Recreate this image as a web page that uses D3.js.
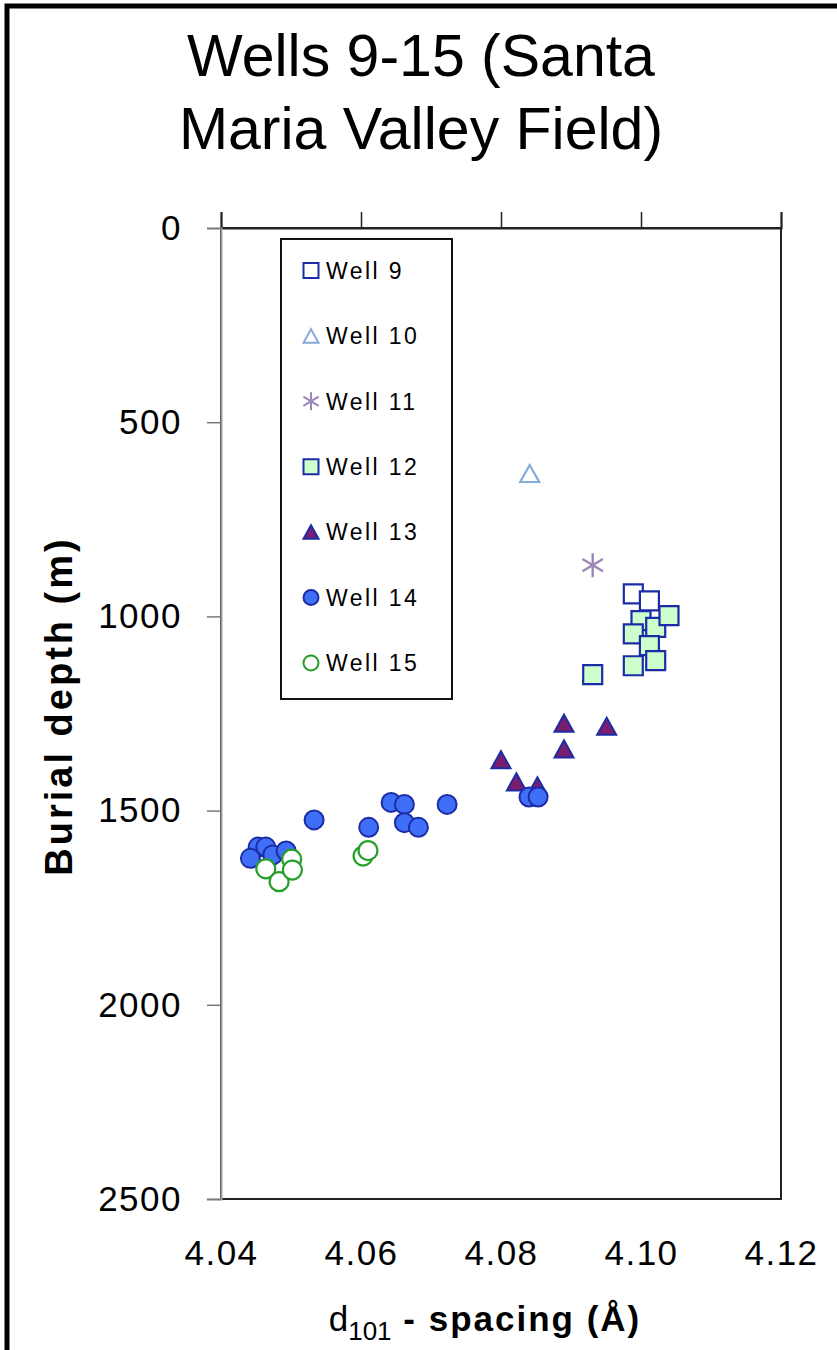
<!DOCTYPE html>
<html>
<head>
<meta charset="utf-8">
<script src="https://cdn.jsdelivr.net/npm/d3@7"></script>
<style>
  body { margin: 0; background: #fff; }
  svg { display: block; }
  text { font-family: "Liberation Sans", Arial, Helvetica, sans-serif; fill: #000; }
</style>
</head>
<body>
<svg id="chart" width="837" height="1350"></svg>
<script>
// ---- data: d101 spacing (Å) and burial depth (m) for each well ----
const wells = ["Well 9", "Well 10", "Well 11", "Well 12", "Well 13", "Well 14", "Well 15"];

const well9Spacing  = [4.0989, 4.1012];
const well9Depth    = [942, 960];

const well10Spacing = [4.0841];
const well10Depth   = [632];

const well11Spacing = [4.0931];
const well11Depth   = [868];

const well12Spacing = [4.1000, 4.1021, 4.1040, 4.0989, 4.1012, 4.0989, 4.1021, 4.0931];
const well12Depth   = [1011, 1028, 998, 1045, 1075, 1127, 1114, 1150];

const well13Spacing = [4.0890, 4.0951, 4.0890, 4.0800, 4.0822, 4.0852];
const well13Depth   = [1275, 1283, 1341, 1369, 1426, 1436];

const well14Spacing = [4.0840, 4.0853, 4.0723, 4.0643, 4.0662, 4.0662, 4.0682, 4.0611, 4.0533,
                       4.0453, 4.0464, 4.0442, 4.0474, 4.0493];
const well14Depth   = [1465, 1465, 1484, 1479, 1484, 1531, 1543, 1543, 1524,
                       1594, 1594, 1623, 1614, 1604];

const well15Spacing = [4.0464, 4.0483, 4.0501, 4.0502, 4.0603, 4.0610];
const well15Depth   = [1650, 1683, 1625, 1653, 1617, 1603];

const spacingTicks = [4.04, 4.06, 4.08, 4.10, 4.12];
const depthTicks   = [0, 500, 1000, 1500, 2000, 2500];

const titleLines = ["Wells 9-15 (Santa", "Maria Valley Field)"];

// ---- marker styles per well ----
const markerStyle = {
  "Well 9":  { shape: "square",   fill: "#ffffff", stroke: "#1c2ca6", width: 2.2 },
  "Well 10": { shape: "triangle", fill: "#ffffff", stroke: "#86acd8", width: 2.2 },
  "Well 11": { shape: "star",     fill: "none",    stroke: "#9c86b8", width: 2.4 },
  "Well 12": { shape: "square",   fill: "#ccffcc", stroke: "#1c2ca6", width: 2.2 },
  "Well 13": { shape: "triangle", fill: "#7a1d6c", stroke: "#1c2ca6", width: 2 },
  "Well 14": { shape: "circle",   fill: "#3f6ff6", stroke: "#1c2ca6", width: 2 },
  "Well 15": { shape: "circle",   fill: "#ffffff", stroke: "#24a02a", width: 2.2 }
};

const series = [
  { name: wells[0], xs: well9Spacing,  ys: well9Depth },
  { name: wells[1], xs: well10Spacing, ys: well10Depth },
  { name: wells[2], xs: well11Spacing, ys: well11Depth },
  { name: wells[3], xs: well12Spacing, ys: well12Depth },
  { name: wells[4], xs: well13Spacing, ys: well13Depth },
  { name: wells[5], xs: well14Spacing, ys: well14Depth },
  { name: wells[6], xs: well15Spacing, ys: well15Depth }
];

// marker outline centred on (0,0), s = overall size in px
function markerPath(shape, s) {
  const h = s / 2;
  const p = d3.path();
  if (shape === "square") {
    p.rect(-h, -h, s, s);
  } else if (shape === "triangle") {
    const th = s * 0.9 / 2;
    p.moveTo(0, -th); p.lineTo(h, th); p.lineTo(-h, th); p.closePath();
  } else if (shape === "circle") {
    p.moveTo(h, 0); p.arc(0, 0, h, 0, 2 * Math.PI);
  } else if (shape === "star") {
    const d = h * 0.85;
    p.moveTo(0, -h); p.lineTo(0, h);
    p.moveTo(-d, -d * 0.6); p.lineTo(d, d * 0.6);
    p.moveTo(-d, d * 0.6); p.lineTo(d, -d * 0.6);
  }
  return p.toString();
}

const svg = d3.select("#chart");

// outer frame
svg.append("rect")
  .attr("x", 7).attr("y", 6).attr("width", 900).attr("height", 1400)
  .attr("fill", "none").attr("stroke", "#000").attr("stroke-width", 5);

// title
svg.append("g").selectAll("text").data(titleLines).join("text")
  .attr("x", 421).attr("y", (d, i) => 76 + i * 73)
  .attr("text-anchor", "middle")
  .attr("font-size", 59)
  .text(d => d);

// plot area
const plot = { left: 221, top: 228, right: 781, bottom: 1199 };
const x = d3.scaleLinear().domain([4.04, 4.12]).range([plot.left, plot.right]);
const y = d3.scaleLinear().domain([0, 2500]).range([plot.top, plot.bottom]);

// plot frame: dark top/right/bottom, grey left (value axis line)
svg.append("rect")
  .attr("x", plot.left).attr("y", plot.top)
  .attr("width", plot.right - plot.left).attr("height", plot.bottom - plot.top)
  .attr("fill", "#fff").attr("stroke", "#222").attr("stroke-width", 2);

// x ticks along the top edge
const xTop = svg.append("g")
  .attr("transform", `translate(0,${plot.top})`)
  .call(d3.axisTop(x).tickValues(spacingTicks).tickSize(16).tickFormat(""));
xTop.select(".domain").attr("stroke", "#222").attr("stroke-width", 2);
xTop.selectAll(".tick line").attr("stroke", "#222").attr("stroke-width", 1.5);

// x tick labels beneath the plot
const xBottom = svg.append("g")
  .attr("transform", `translate(0,${plot.bottom})`)
  .call(d3.axisBottom(x).tickValues(spacingTicks).tickSize(0).tickPadding(41)
    .tickFormat(d3.format(".2f")));
xBottom.select(".domain").remove();
xBottom.selectAll(".tick text")
  .attr("font-size", 35).attr("letter-spacing", 1.5).attr("fill", "#111")
  .style("font-family", "'Liberation Sans', Arial, sans-serif");

// y axis on the left
const yAxis = svg.append("g")
  .attr("transform", `translate(${plot.left},0)`)
  .call(d3.axisLeft(y).tickValues(depthTicks).tickSize(14).tickPadding(25)
    .tickFormat(d3.format("d")));
yAxis.select(".domain").attr("stroke", "#a0a0a0").attr("stroke-width", 2);
yAxis.selectAll(".tick line").attr("stroke", "#777").attr("stroke-width", 1.5);
yAxis.selectAll(".tick text")
  .attr("font-size", 35).attr("letter-spacing", 1.5).attr("fill", "#111")
  .style("font-family", "'Liberation Sans', Arial, sans-serif");

// axis titles
svg.append("text")
  .attr("transform", "translate(72,706) rotate(-90)")
  .attr("text-anchor", "middle")
  .attr("font-size", 38).attr("font-weight", "bold").attr("letter-spacing", 3)
  .text("Burial depth (m)");

const xTitle = svg.append("text")
  .attr("x", 485).attr("y", 1331)
  .attr("text-anchor", "middle")
  .attr("font-size", 35);
xTitle.append("tspan").text("d");
xTitle.append("tspan").attr("font-size", 26).attr("dy", 9).text("101");
xTitle.append("tspan").attr("dy", -9).attr("font-weight", "bold").attr("letter-spacing", 2)
  .text(" - spacing (Å)");

// data points
const pts = svg.append("g");
series.forEach(s => {
  const st = markerStyle[s.name];
  const size = st.shape === "star" ? 24 : 19;
  pts.append("g").selectAll("path")
    .data(s.xs.map((v, i) => ({ x: v, y: s.ys[i] })))
    .join("path")
    .attr("transform", d => `translate(${x(d.x)},${y(d.y)})`)
    .attr("d", markerPath(st.shape, size))
    .attr("fill", st.fill)
    .attr("stroke", st.stroke)
    .attr("stroke-width", st.width);
});

// legend
const legend = svg.append("g");
legend.append("rect")
  .attr("x", 281).attr("y", 239).attr("width", 171).attr("height", 460)
  .attr("fill", "#fff").attr("stroke", "#111").attr("stroke-width", 2);

const items = legend.selectAll("g.item").data(wells).join("g")
  .attr("class", "item")
  .attr("transform", (d, i) => `translate(311,${270.5 + i * 65.4})`);
items.append("path")
  .attr("d", d => markerPath(markerStyle[d].shape, markerStyle[d].shape === "star" ? 18 : 15))
  .attr("fill", d => markerStyle[d].fill)
  .attr("stroke", d => markerStyle[d].stroke)
  .attr("stroke-width", 2);
items.append("text")
  .attr("x", 15).attr("dy", "0.36em")
  .attr("font-size", 23).attr("letter-spacing", 2.4)
  .text(d => d);
</script>
</body>
</html>
